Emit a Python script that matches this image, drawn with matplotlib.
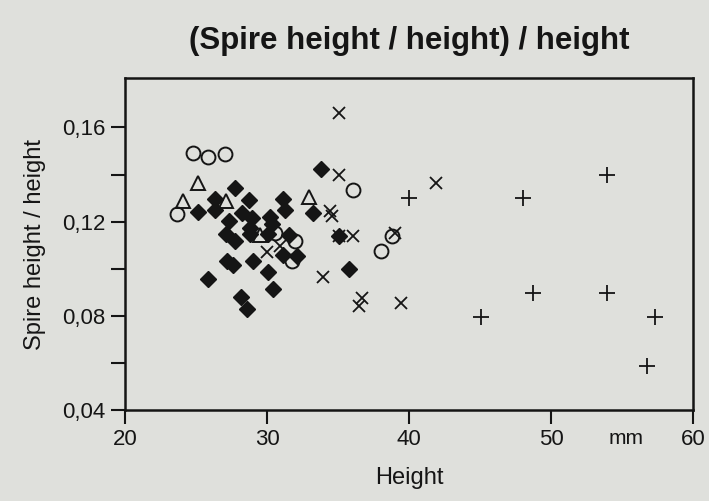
import matplotlib.pyplot as plt
import numpy as np

plt.rcParams['font.family'] = ['Liberation Sans', 'DejaVu Sans']

# data
diamond_x = [27.75, 26.34, 26.34, 28.73, 25.12, 28.22, 27.32, 28.92, 30.21, 27.11,
             27.75, 28.80, 28.80, 30.35, 30.07, 27.16, 27.63, 29.04, 30.09, 25.87,
             30.40, 28.17, 28.61, 33.80, 31.15, 31.27, 33.22, 31.55, 31.15, 32.11,
             35.07, 35.80]
diamond_y = [0.1343, 0.1296, 0.1249, 0.1292, 0.1241, 0.1238, 0.1202, 0.1216, 0.1219, 0.1147,
             0.1117, 0.1172, 0.1147, 0.1189, 0.1147, 0.1031, 0.1017, 0.1031, 0.0988, 0.0955,
             0.0913, 0.0881, 0.0828, 0.1425, 0.1295, 0.1248, 0.1235, 0.1142, 0.1060, 0.1052,
             0.1138, 0.1000]

circle_x = [24.81, 25.82, 27.06, 23.64, 36.08, 30.56, 31.97, 31.74, 38.01, 38.78]
circle_y = [0.1490, 0.1476, 0.1487, 0.1233, 0.1333, 0.1151, 0.1117, 0.1031, 0.1077, 0.1138]

triangle_x = [25.12, 24.11, 27.11, 32.98, 29.51]
triangle_y = [0.1366, 0.1288, 0.1288, 0.1305, 0.1142]

cross_x = [35.07, 35.07, 34.44, 34.58, 35.07, 36.08, 29.98, 30.92, 33.96, 36.67,
           36.50, 39.46, 39.01, 41.88]
cross_y = [0.1663, 0.1398, 0.1245, 0.1224, 0.1138, 0.1138, 0.1070, 0.1095, 0.0967, 0.0874,
           0.0843, 0.0853, 0.1152, 0.1363]

plus_x = [40.02, 48.05, 53.92, 48.75, 53.92, 45.07, 57.32, 56.78]
plus_y = [0.1299, 0.1299, 0.1399, 0.0898, 0.0898, 0.0793, 0.0793, 0.0589]

xticks = [20, 30, 40, 50, 60]
yticks = [0.04, 0.08, 0.12, 0.16]
ytick_labels = ['0,04', '0,08', '0,12', '0,16']
yminor = [0.06, 0.10, 0.14]

bg = '#dfe0dc'
ink = '#151515'

fig = plt.figure(figsize=(7.09, 5.01), dpi=100, facecolor=bg)
ax = fig.add_axes([0.1763, 0.1816, 0.8011, 0.6627], facecolor=bg)

ax.plot(diamond_x, diamond_y, 'D', ms=8, mfc=ink, mec=ink, ls='none')
ax.plot(circle_x, circle_y, 'o', ms=10, mfc='none', mec=ink, mew=1.4, ls='none')
ax.plot(triangle_x, triangle_y, '^', ms=10, mfc='none', mec=ink, mew=1.4, ls='none')
ax.plot(cross_x, cross_y, 'x', ms=9, mec=ink, mew=1.3, ls='none')
ax.plot(plus_x, plus_y, '+', ms=11, mec=ink, mew=1.3, ls='none')

ax.set_xlim(20, 60)
ax.set_ylim(0.04, 0.181)
ax.set_xticks(xticks)
ax.set_xticklabels([str(v) for v in xticks])
ax.set_yticks(yticks)
ax.set_yticklabels(ytick_labels)
ax.set_yticks(yminor, minor=True)

for s in ax.spines.values():
    s.set_linewidth(1.8)
    s.set_color(ink)
ax.tick_params(which='both', direction='out', length=10, width=1.5, color=ink,
               labelsize=16, labelcolor=ink, pad=4)

# unit label sits on the tick-label row between 50 and 60
ax.text(55.3, -0.103, 'mm', transform=ax.get_xaxis_transform(), ha='center', va='baseline',
        fontsize=15, color=ink)

ax.set_xlabel('Height', fontsize=17, color=ink, labelpad=12)
ax.set_ylabel('Spire height / height', fontsize=17, color=ink, labelpad=12)

fig.text(0.577, 0.918, '(Spire height / height) / height', ha='center', va='center',
         fontsize=22.5, fontweight='bold', color=ink)

fig.savefig('out.png', dpi=100, facecolor=bg)
